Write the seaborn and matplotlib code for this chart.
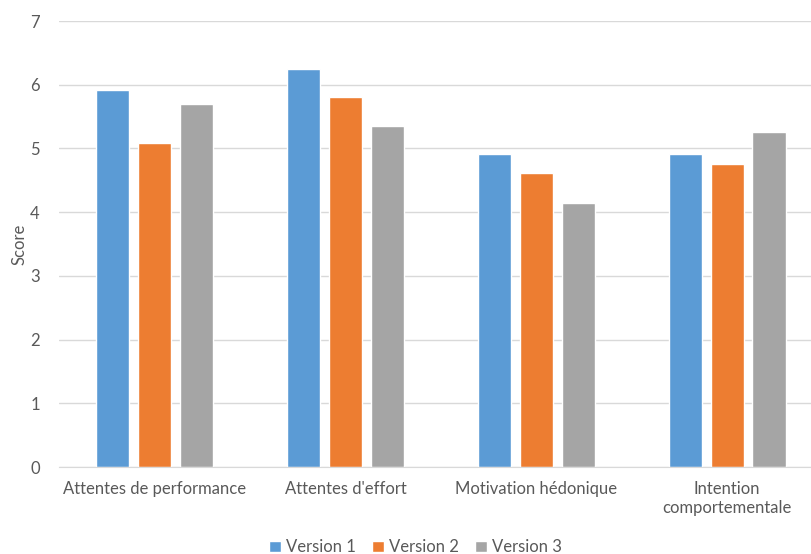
import pandas as pd
import matplotlib.pyplot as plt
import seaborn as sns

categories = ["Attentes de performance", "Attentes d'effort",
              "Motivation hédonique", "Intention\ncomportementale"]
versions = ["Version 1", "Version 2", "Version 3"]
version_1 = [5.92, 6.25, 4.92, 4.92]
version_2 = [5.09, 5.81, 4.62, 4.75]
version_3 = [5.70, 5.36, 4.15, 5.26]

colors = ["#5B9BD5", "#ED7D31", "#A5A5A5"]

sns.set_style("white")
plt.rcParams["font.family"] = ["Lato", "DejaVu Sans"]

rows = []
for version, values in zip(versions, [version_1, version_2, version_3]):
    for cat, val in zip(categories, values):
        rows.append({"category": cat, "version": version, "score": val})
df = pd.DataFrame(rows)

fig = plt.figure(figsize=(8.12, 5.54), dpi=100)
ax = fig.add_axes([0.073, 0.157, 0.927, 0.805])

sns.barplot(data=df, x="category", y="score", hue="version",
            palette=colors, width=0.66, gap=0.21, ax=ax, saturation=1)

ax.set_ylim(0, 7)
ax.set_xlim(-0.5, 3.445)
ax.set_yticks(range(0, 8))
ax.yaxis.grid(True, color="#D9D9D9", linewidth=1)
ax.set_axisbelow(True)
for side in ["top", "right", "left"]:
    ax.spines[side].set_visible(False)
ax.spines["bottom"].set_color("#D9D9D9")
ax.tick_params(axis="both", length=0, colors="#595959", labelsize=12)
ax.tick_params(axis="x", pad=10)
ax.tick_params(axis="y", pad=14)
ax.set_xlabel("")
ax.set_ylabel("Score", color="#595959", fontsize=12, labelpad=2)

ax.legend(loc="center", bbox_to_anchor=(0.473, -0.18), ncol=3,
          frameon=False, fontsize=12, handlelength=0.7, handleheight=0.7,
          handletextpad=0.3, columnspacing=1.0, labelcolor="#595959")

plt.savefig("out.png", dpi=100)
